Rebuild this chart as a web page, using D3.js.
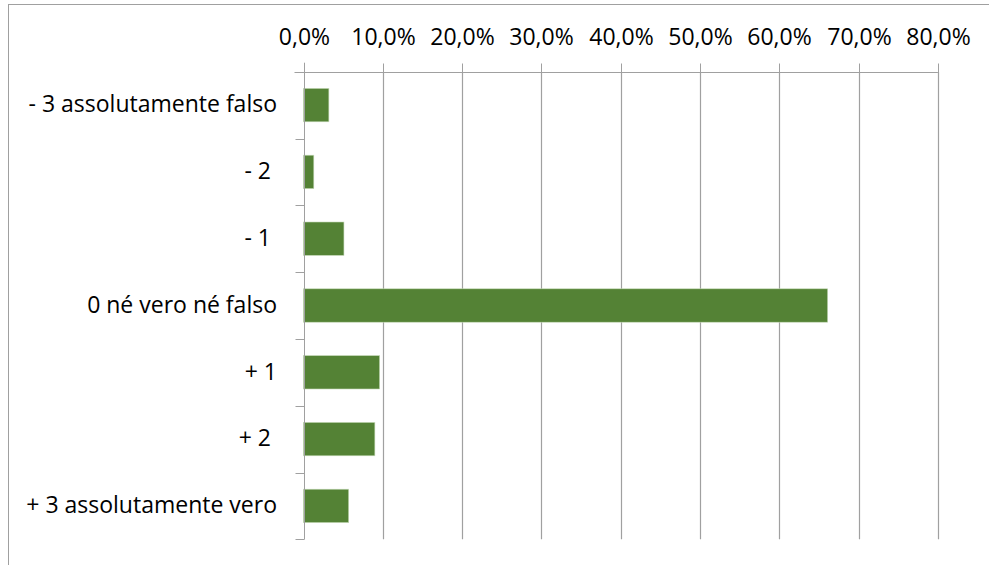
<!DOCTYPE html>
<html><head><meta charset="utf-8">
<script src="https://cdn.jsdelivr.net/npm/d3@7"></script>
<style>html,body{margin:0;padding:0;background:#fff}svg{display:block}</style>
</head><body>
<svg id="c" width="989" height="565"></svg>
<script>
const categories = ["- 3 assolutamente falso", "- 2 ", "- 1 ", "0 né vero né falso", "+ 1", "+ 2 ", "+ 3 assolutamente vero"];
const values = [0.032, 0.013, 0.051, 0.661, 0.096, 0.090, 0.057];
const tickValues = [0, 0.1, 0.2, 0.3, 0.4, 0.5, 0.6, 0.7, 0.8];

const svg = d3.select("#c");
const font = "'Open Sans', sans-serif";
const fs = 23;
const m = {left: 303.5, right: 937.9, top: 71.7, bottom: 539.3};

// outer border
svg.append("rect").attr("x", 8.5).attr("y", 4.5).attr("width", 1000).attr("height", 600)
  .attr("fill", "none").attr("stroke", "#a0a0a0").attr("stroke-width", 1);

const x = d3.scaleLinear().domain([0, 0.8]).range([m.left, m.right]);
const y = d3.scaleBand().domain(categories).range([m.top, m.bottom]).paddingInner(0.5).paddingOuter(0.25);
const yb = d3.scaleBand().domain(categories).range([m.top, m.bottom]);

// gridlines
svg.append("g").selectAll("line").data(tickValues.slice(1)).join("line")
  .attr("x1", d => Math.round(x(d)) + 0.5).attr("x2", d => Math.round(x(d)) + 0.5)
  .attr("y1", m.top).attr("y2", m.bottom)
  .attr("stroke", "#a0a0a0").attr("stroke-width", 1.2);

// bars
svg.append("g").selectAll("rect").data(values).join("rect")
  .attr("x", x(0)).attr("y", (d, i) => y(categories[i]))
  .attr("width", d => x(d) - x(0)).attr("height", y.bandwidth())
  .attr("fill", "#548235").attr("stroke", "#c5d9b8").attr("stroke-width", 0.6);

// top axis
const xAxis = d3.axisTop(x).tickValues(tickValues).tickSize(9).tickPadding(19)
  .tickFormat(d => d3.format(".1%")(d).replace(".", ","));
const gx = svg.append("g").attr("transform", `translate(0,${Math.round(m.top) + 0.5})`).call(xAxis);
gx.select(".domain").attr("stroke", "#a0a0a0").attr("d", `M${m.left - 9},0H${m.right}`);
gx.selectAll(".tick line").attr("stroke", "#a0a0a0");
gx.selectAll(".tick").attr("transform", d => `translate(${Math.round(x(d)) + 0.5},0)`);
gx.selectAll("text").attr("font-family", font).attr("font-size", fs).attr("fill", "#000");

// left axis
const gy = svg.append("g").attr("transform", `translate(${Math.round(m.left) + 0.5},0)`);
gy.append("line").attr("x1", 0).attr("x2", 0).attr("y1", m.top - 9).attr("y2", m.bottom)
  .attr("stroke", "#a0a0a0");
const bounds = categories.map(c => yb(c) + yb.bandwidth());
gy.selectAll("line.t").data(bounds).join("line").attr("class", "t")
  .attr("x1", -9).attr("x2", 0).attr("y1", d => Math.round(d) + 0.5).attr("y2", d => Math.round(d) + 0.5)
  .attr("stroke", "#a0a0a0");
svg.append("g").selectAll("text").data(categories).join("text")
  .attr("x", 277).attr("y", d => yb(d) + yb.bandwidth() / 2).attr("dy", "0.32em")
  .attr("text-anchor", "end").attr("font-family", font).attr("font-size", fs).attr("fill", "#000")
  .style("white-space", "pre").text(d => d);
</script>
</body></html>
